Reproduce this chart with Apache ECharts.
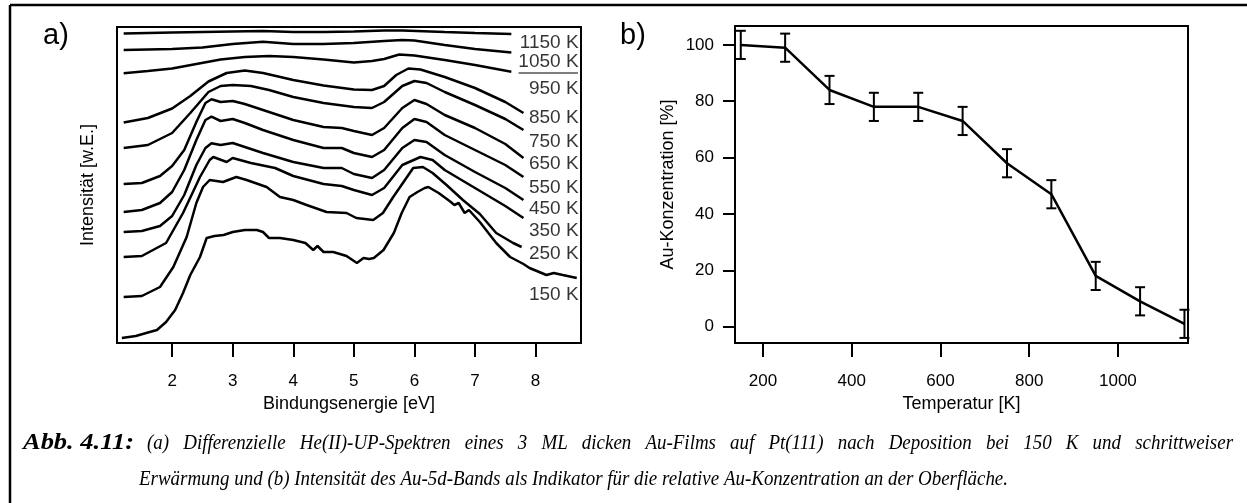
<!DOCTYPE html>
<html>
<head>
<meta charset="utf-8">
<script src="https://cdn.jsdelivr.net/npm/echarts@6/dist/echarts.min.js"></script>
<style>
  html, body { margin: 0; padding: 0; background: #fff; }
  #chart { width: 1247px; height: 503px; }
</style>
</head>
<body>
<div id="chart"></div>
<script>
// --- Daten a): UP-Spektren, [Bindungsenergie eV, Intensität w.E.] ---
const spec1150 = [[1.2,309.5],[2.0,310.5],[3.0,311.5],[3.5,312],[4.0,311],[4.5,311],[5.0,311.5],[5.5,312.5],[5.8,312.5],[6.5,311],[7.0,310],[7.6,309]];
const spec1050 = [[1.2,293],[2.0,294],[2.5,295.5],[3.0,299],[3.5,301.3],[4.0,299],[4.5,299],[5.0,300],[5.5,302],[5.8,303],[6.0,302.5],[6.5,298],[7.0,294],[7.6,290.5]];
const spec950 = [[1.2,269.7],[1.6,272],[2.0,274.5],[2.4,279],[2.8,283.5],[3.2,286],[3.6,287],[4.0,286],[4.5,283.5],[5.0,280.5],[5.3,282],[5.5,284],[5.75,288.5],[6.0,287.5],[6.5,283],[7.0,278],[7.6,271.3]];
const spec850 = [[1.2,220.5],[1.6,225],[2.0,234.5],[2.3,247],[2.6,261.5],[2.9,270],[3.2,272.5],[3.5,270],[4.0,263],[4.5,257.5],[5.0,253.5],[5.3,253],[5.5,257],[5.7,268],[5.9,274.5],[6.1,273.5],[6.5,266],[7.0,255],[7.5,241],[7.8,230]];
const spec750 = [[1.2,195],[1.6,198],[2.0,210],[2.3,230],[2.6,251],[2.8,257],[3.0,258],[3.3,257],[3.6,253],[4.0,246],[4.5,240],[5.0,236],[5.3,235],[5.5,241],[5.8,257],[6.0,262],[6.2,260],[6.5,251],[7.0,238],[7.5,224],[7.8,213]];
const spec650 = [[1.2,159],[1.5,160],[1.8,167],[2.0,177],[2.2,193],[2.4,221],[2.55,240],[2.65,243.7],[2.8,241],[3.0,242],[3.2,239],[3.5,233],[4.0,223],[4.5,216],[4.8,215],[5.0,212],[5.3,208],[5.5,215],[5.8,235],[6.0,243],[6.2,239],[6.5,228],[7.0,215],[7.5,199],[7.8,185]];
const spec550 = [[1.2,131],[1.5,133],[1.8,140],[2.0,151],[2.2,173],[2.4,203],[2.55,223],[2.65,226.3],[2.8,222],[3.0,224],[3.2,220],[3.5,213],[4.0,203],[4.5,195],[4.8,195],[5.0,190],[5.3,186],[5.5,193],[5.8,215],[6.0,224],[6.2,221],[6.5,208],[7.0,193],[7.5,178],[7.8,166]];
const spec450 = [[1.2,111],[1.5,112],[1.8,117],[2.0,127],[2.2,148],[2.4,178],[2.55,195],[2.65,199.7],[2.8,198],[3.0,200],[3.2,196],[3.5,190],[4.0,181],[4.5,175],[4.8,175],[5.0,169],[5.3,165],[5.5,173],[5.8,195],[6.0,203],[6.2,201],[6.5,188],[7.0,171],[7.5,155],[7.8,143]];
const spec350 = [[1.2,86],[1.5,87],[1.9,100],[2.18,130],[2.46,166],[2.62,183],[2.68,186],[2.9,181],[3.0,185],[3.3,180],[3.7,175],[4.0,167],[4.5,159],[4.8,157],[5.0,153],[5.3,148],[5.5,155],[5.8,178],[6.1,186],[6.3,183],[6.5,173],[7.0,155],[7.5,137],[7.8,125]];
const spec250 = [[1.2,46],[1.5,47],[1.8,56],[2.02,76],[2.24,106],[2.4,140],[2.51,156],[2.62,163],[2.84,161],[3.06,166],[3.23,163],[3.56,156],[3.78,146],[4.0,143],[4.22,138],[4.55,131],[4.88,130],[5.04,125],[5.32,123],[5.48,130],[5.65,146],[5.98,175],[6.14,176],[6.3,170],[6.53,158],[6.8,143],[7.08,129],[7.35,110],[7.63,100],[7.77,96]];
const spec150 = [[1.17,5],[1.4,7],[1.63,11],[1.75,13],[1.9,21],[2.05,33],[2.18,50],[2.3,68],[2.46,86],[2.57,105],[2.7,107],[2.85,108],[3.0,111],[3.2,113],[3.4,113],[3.5,111],[3.6,105],[3.78,105],[4.0,103],[4.2,100],[4.33,93],[4.4,97],[4.5,91],[4.66,91],[4.88,87],[5.05,80],[5.16,85],[5.25,84],[5.33,85],[5.49,93],[5.66,110],[5.79,130],[5.92,146],[6.05,151],[6.17,155],[6.23,156],[6.4,150],[6.58,142],[6.66,138],[6.73,140],[6.83,130],[6.9,133],[7.08,121],[7.35,100],[7.58,86],[7.8,79],[7.9,75],[8.18,68],[8.3,70],[8.45,68],[8.68,65]];
// kleiner Strich unter "1050 K"
const strich = [[7.72,270],[8.7,270]];

const spectra = [spec1150, spec1050, spec950, spec850, spec750, spec650, spec550, spec450, spec350, spec250, spec150];
const tempNames = ['1150 K','1050 K','950 K','850 K','750 K','650 K','550 K','450 K','350 K','250 K','150 K'];
const labelPosY = [300, 281, 254, 225, 201, 179, 155, 134, 112, 89, 48];
const energyTicks = [2, 3, 4, 5, 6, 7, 8];

// --- Daten b): Au-Konzentration ---
const temps = [150, 250, 350, 450, 550, 650, 750, 850, 950, 1050, 1150];
const conc = [100, 99, 84, 78, 78, 73, 58, 47, 18, 9, 1];
const concErr = [5, 5, 5, 5, 5, 5, 5, 5, 5, 5, 5];
const tempTicks = [200, 400, 600, 800, 1000];
const concTicks = [0, 20, 40, 60, 80, 100];

const captionLabel = 'Abb. 4.11:';
const captionLine1 = '(a) Differenzielle He(II)-UP-Spektren eines 3 ML dicken Au-Films auf Pt(111) nach Deposition bei 150 K und schrittweiser';
const captionLine2 = 'Erwärmung und (b) Intensität des Au-5d-Bands als Indikator für die relative Au-Konzentration an der Oberfläche.';

const font = 'Liberation Sans, Arial, sans-serif';
const serif = 'Liberation Serif';

const chart = echarts.init(document.getElementById('chart'));

// Blocksatz für die Bildunterschrift (schmale Schrift wie im Original)
const ctx = document.createElement('canvas').getContext('2d');
const capSize = 22;
ctx.font = 'italic ' + capSize + 'px "' + serif + '"';
const sx = 869 / ctx.measureText(captionLine2).width;
function justified(text, x0, x1, yc) {
  const words = text.split(' ');
  const ws = words.map(w => ctx.measureText(w).width * sx);
  const gap = (x1 - x0 - ws.reduce((a, b) => a + b, 0)) / (words.length - 1);
  let x = x0;
  return words.map((w, i) => {
    const el = { type: 'text', x: x, y: yc, scaleX: sx,
      style: { text: w, fontSize: capSize, fontStyle: 'italic', fontFamily: serif, fill: '#000', verticalAlign: 'middle' } };
    x += ws[i] + gap;
    return el;
  });
}

const spectraSeries = spectra.map((d, i) => ({
  name: tempNames[i],
  type: 'line',
  xAxisIndex: 0, yAxisIndex: 0,
  data: d,
  showSymbol: false,
  lineStyle: { color: '#000', width: 2.5 },
  z: 3
}));

const tickLabel = v => String(v);

const option = {
  animation: false,
  backgroundColor: '#fff',
  textStyle: { fontFamily: font, color: '#000' },
  grid: [
    { left: 117, top: 27, width: 464, height: 316, show: true, borderColor: '#000', borderWidth: 2, backgroundColor: 'transparent' },
    { left: 735, top: 26, width: 453, height: 317, show: true, borderColor: '#000', borderWidth: 2, backgroundColor: 'transparent' }
  ],
  xAxis: [
    {
      gridIndex: 0, type: 'value', min: 1.09, max: 8.75,
      axisLine: { show: false, onZero: false },
      axisTick: { show: true, customValues: energyTicks, length: 14, lineStyle: { color: '#000', width: 2 } },
      axisLabel: { customValues: energyTicks, formatter: tickLabel, fontSize: 17, color: '#000', margin: 30, fontFamily: font },
      splitLine: { show: false },
      name: 'Bindungsenergie [eV]', nameLocation: 'middle', nameGap: 52,
      nameTextStyle: { fontSize: 18, color: '#000', fontFamily: font }
    },
    {
      gridIndex: 1, type: 'value', min: 137, max: 1158,
      axisLine: { show: false, onZero: false },
      axisTick: { show: true, customValues: tempTicks, length: 14, lineStyle: { color: '#000', width: 2 } },
      axisLabel: { customValues: tempTicks, formatter: tickLabel, fontSize: 17, color: '#000', margin: 30, fontFamily: font },
      splitLine: { show: false },
      name: 'Temperatur [K]', nameLocation: 'middle', nameGap: 52,
      nameTextStyle: { fontSize: 18, color: '#000', fontFamily: font }
    }
  ],
  yAxis: [
    {
      gridIndex: 0, type: 'value', min: 0, max: 316,
      axisLine: { show: false }, axisTick: { show: false }, axisLabel: { show: false },
      splitLine: { show: false },
      name: 'Intensität [w.E.]', nameLocation: 'middle', nameGap: 20,
      nameTextStyle: { fontSize: 18, color: '#000', fontFamily: font }
    },
    {
      gridIndex: 1, type: 'value', min: -5.8, max: 106.7,
      axisLine: { show: false, onZero: false },
      axisTick: { show: true, customValues: concTicks, length: 12, lineStyle: { color: '#000', width: 2 } },
      axisLabel: { customValues: concTicks, formatter: tickLabel, fontSize: 17, color: '#000', margin: 21, fontFamily: font },
      splitLine: { show: false },
      name: 'Au-Konzentration [%]', nameLocation: 'middle', nameGap: 58,
      nameTextStyle: { fontSize: 18, color: '#000', fontFamily: font }
    }
  ],
  series: spectraSeries.concat([
    {
      name: 'strich', type: 'line', xAxisIndex: 0, yAxisIndex: 0,
      data: strich, showSymbol: false, lineStyle: { color: '#000', width: 1.2 }
    },
    {
      name: 'labels', type: 'scatter', xAxisIndex: 0, yAxisIndex: 0,
      symbolSize: 0,
      data: labelPosY.map((y, i) => [8.71, y, tempNames[i]]),
      label: {
        show: true, position: 'left', distance: 0,
        formatter: p => p.value[2],
        fontSize: 19, color: '#000', fontFamily: font
      },
      z: 5
    },
    {
      name: 'Au', type: 'line', xAxisIndex: 1, yAxisIndex: 1,
      data: temps.map((t, i) => [t, conc[i]]),
      showSymbol: false, lineStyle: { color: '#000', width: 2.5 }
    },
    {
      name: 'Fehler', type: 'custom', xAxisIndex: 1, yAxisIndex: 1,
      data: temps.map((t, i) => [t, conc[i] - concErr[i], conc[i] + concErr[i]]),
      encode: { x: 0, y: [1, 2] },
      renderItem: function (params, api) {
        const lo = api.coord([api.value(0), api.value(1)]);
        const hi = api.coord([api.value(0), api.value(2)]);
        const w = 5;
        const st = { stroke: '#000', lineWidth: 2 };
        return {
          type: 'group',
          children: [
            { type: 'line', shape: { x1: lo[0], y1: lo[1], x2: hi[0], y2: hi[1] }, style: st },
            { type: 'line', shape: { x1: lo[0] - w, y1: lo[1], x2: lo[0] + w, y2: lo[1] }, style: st },
            { type: 'line', shape: { x1: hi[0] - w, y1: hi[1], x2: hi[0] + w, y2: hi[1] }, style: st }
          ]
        };
      }
    }
  ]),
  graphic: [
    // Rahmen
    { type: 'line', shape: { x1: 10, y1: 5, x2: 1247, y2: 5 }, style: { stroke: '#000', lineWidth: 2.5 } },
    { type: 'line', shape: { x1: 10, y1: 5, x2: 10, y2: 503 }, style: { stroke: '#000', lineWidth: 2.5 } },
    // Teilbild-Beschriftung
    { type: 'text', left: 43, top: 21, style: { text: 'a)', fontSize: 29, fontFamily: font, fill: '#000' } },
    { type: 'text', left: 620, top: 21, style: { text: 'b)', fontSize: 29, fontFamily: font, fill: '#000' } },
    // Bildunterschrift
    { type: 'text', x: 23, y: 443, scaleX: 1.15, style: { text: captionLabel, fontSize: 23, fontStyle: 'italic', fontWeight: 'bold', fontFamily: serif, fill: '#000', verticalAlign: 'middle' } },
    { type: 'text', x: 139, y: 479, scaleX: sx, style: { text: captionLine2, fontSize: capSize, fontStyle: 'italic', fontFamily: serif, fill: '#000', verticalAlign: 'middle' } }
  ].concat(justified(captionLine1, 147, 1233, 443))
};

chart.setOption(option);
</script>
</body>
</html>
